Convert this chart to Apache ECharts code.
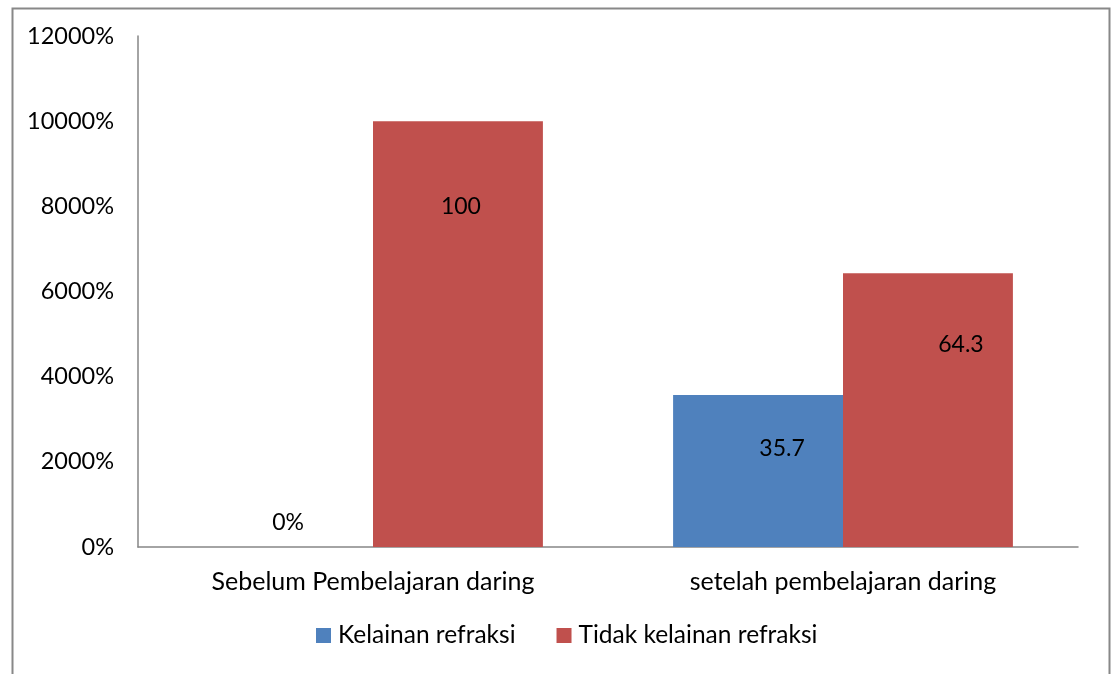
<!DOCTYPE html>
<html>
<head>
<meta charset="utf-8">
<script src="https://cdn.jsdelivr.net/npm/echarts@6/dist/echarts.min.js"></script>
<style>
html,body{margin:0;padding:0;background:#fff;}
#c{width:1112px;height:674px;}
</style>
</head>
<body>
<div id="c"></div>
<script>
const categories = ['Sebelum Pembelajaran daring', 'setelah pembelajaran daring'];
const seriesNames = ['Kelainan refraksi', 'Tidak kelainan refraksi'];
const kelainan = [0, 35.7];
const tidakKelainan = [100, 64.3];
const kelainanLabels = ['0%', '35.7'];
const tidakLabels = ['100', '64.3'];

const FONT = 'Lato, "Noto Sans", sans-serif';
const chart = echarts.init(document.getElementById('c'));

function buildData(vals, labels, cfgs) {
  return vals.map((v, i) => ({ value: v, label: Object.assign({ formatter: labels[i] }, cfgs[i]) }));
}

chart.setOption({
  animation: false,
  textStyle: { fontFamily: FONT },
  graphic: [{
    type: 'rect', left: 10, top: 6, silent: true,
    shape: { width: 1097, height: 720 },
    style: { fill: 'none', stroke: '#888', lineWidth: 2 }
  }],
  grid: { left: 138, right: 34, top: 36, bottom: 127 },
  legend: {
    bottom: 21, left: 311, itemWidth: 15, itemHeight: 15, itemGap: 41,
    icon: 'rect',
    textStyle: { fontSize: 24.5, color: '#000', fontFamily: FONT, padding: [0, 0, 0, 2] },
    data: seriesNames
  },
  xAxis: {
    type: 'category', data: categories,
    axisLine: { lineStyle: { color: '#868686', width: 1.5 } },
    axisTick: { show: false },
    axisLabel: { fontSize: 25, color: '#000', margin: 22, fontFamily: FONT }
  },
  yAxis: {
    type: 'value', min: 0, max: 120, interval: 20,
    splitLine: { show: false },
    axisLine: { show: true, lineStyle: { color: '#868686', width: 1.5 } },
    axisTick: { show: false },
    axisLabel: { fontSize: 23.5, color: '#000', margin: 24, fontFamily: FONT,
      formatter: v => (v * 100) + '%' }
  },
  series: [
    {
      name: seriesNames[0], type: 'bar', barCategoryGap: '27.7%', barGap: '0%',
      itemStyle: { color: '#4F81BD' },
      label: { show: true, fontSize: 23, color: '#000', fontFamily: FONT },
      data: buildData(kelainan, kelainanLabels, [
        { position: 'top', distance: 13 },
        { position: 'insideTop', distance: 42, offset: [24, 0] }
      ])
    },
    {
      name: seriesNames[1], type: 'bar', barCategoryGap: '27.7%', barGap: '0%',
      itemStyle: { color: '#C0504D' },
      label: { show: true, fontSize: 23, color: '#000', fontFamily: FONT },
      data: buildData(tidakKelainan, tidakLabels, [
        { position: 'insideTop', distance: 74, offset: [3, 0] },
        { position: 'insideTop', distance: 60, offset: [33, 0] }
      ])
    }
  ]
});
</script>
</body>
</html>
